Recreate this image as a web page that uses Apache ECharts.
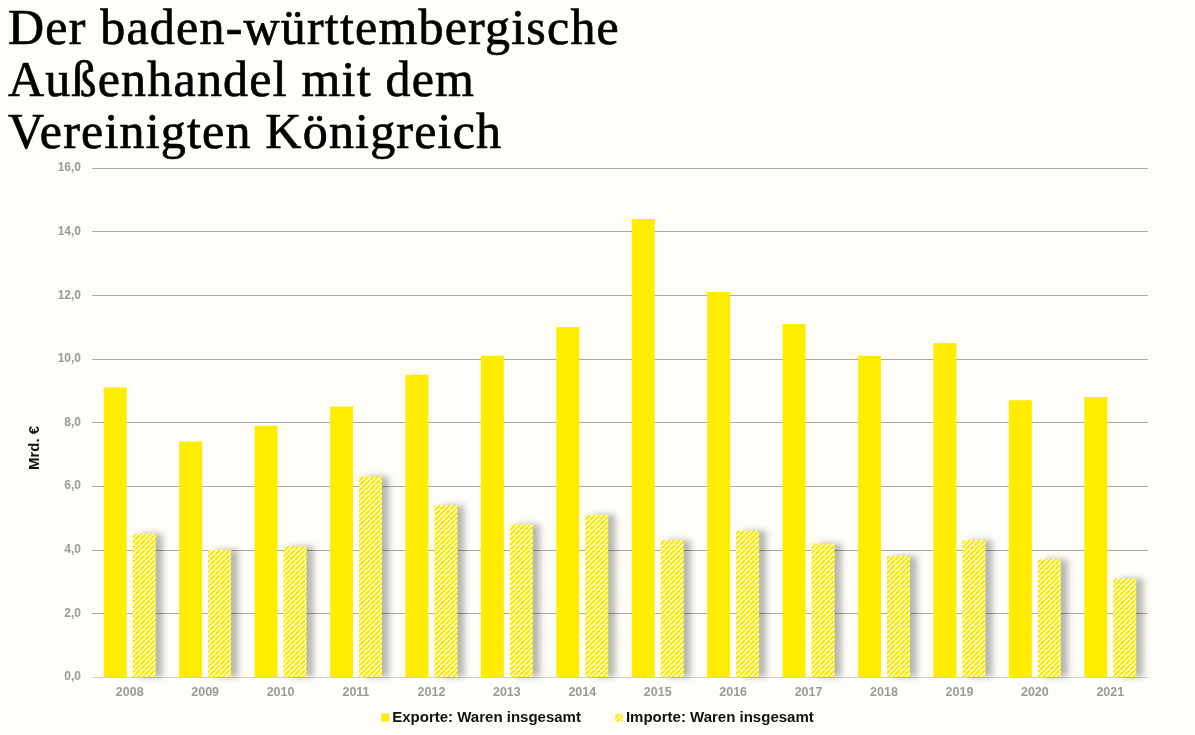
<!DOCTYPE html>
<html><head><meta charset="utf-8">
<script src="https://cdn.jsdelivr.net/npm/echarts@6/dist/echarts.min.js"></script>
<style>
html,body{margin:0;padding:0;background:#fefdf7;}
#title{position:absolute;left:8px;top:1px;font-family:"Liberation Serif","DejaVu Serif",serif;font-size:50px;line-height:52px;letter-spacing:1.2px;color:#000;margin:0;font-weight:normal;-webkit-text-stroke:0.7px #000;}
#chart{position:absolute;left:0;top:0;width:1195px;height:735px;}
</style></head>
<body>
<div id="chart"></div>
<h1 id="title">Der baden-württembergische<br>Außenhandel mit dem<br>Vereinigten Königreich</h1>
<script>
const years = ['2008','2009','2010','2011','2012','2013','2014','2015','2016','2017','2018','2019','2020','2021'];
const exporte = [9.1,7.4,7.9,8.5,9.5,10.1,11.0,14.4,12.1,11.1,10.1,10.5,8.7,8.8];
const importe = [4.5,4.0,4.1,6.3,5.4,4.8,5.1,4.3,4.6,4.2,3.8,4.3,3.7,3.1];
const seriesNames = ['Exporte: Waren insgesamt','Importe: Waren insgesamt'];
const yTicks = {min:0,max:16,interval:2};
const yName = 'Mrd. €';

function stripePattern(){
  const c=document.createElement('canvas');
  c.width=5;c.height=5;
  const ctx=c.getContext('2d');
  ctx.fillStyle='#ffffff';ctx.fillRect(0,0,5,5);
  ctx.strokeStyle='#fbe900';ctx.lineWidth=2.4;
  ctx.beginPath();
  for(let k=-5;k<=10;k+=5){ctx.moveTo(k,5);ctx.lineTo(k+5,0);}
  ctx.stroke();
  return c;
}
const pat={image:stripePattern(),repeat:'repeat'};
const font='Liberation Sans, Arial, sans-serif';

const chart=echarts.init(document.getElementById('chart'));
chart.setOption({
  backgroundColor:'#fefdf7',
  animation:false,
  grid:{left:92,right:47,top:168,bottom:58},
  legend:{bottom:5,left:'center',itemWidth:8,itemHeight:8,itemGap:34,icon:'rect',
    textStyle:{fontFamily:font,fontWeight:'bold',fontSize:15,color:'#111',padding:[0,0,0,-2]},
    data:seriesNames},
  graphic:[{type:'text',x:35,y:448,rotation:Math.PI/2,
    style:{text:yName,font:'bold 15px '+font,fill:'#111',textAlign:'center',textVerticalAlign:'middle'}}],
  xAxis:{type:'category',data:years,
    axisLine:{lineStyle:{color:'#d0d0d0'}},axisTick:{show:false},
    axisLabel:{color:'#9a9a9a',fontWeight:'bold',fontSize:12.5,fontFamily:font,margin:9}},
  yAxis:{type:'value',min:yTicks.min,max:yTicks.max,interval:yTicks.interval,
    axisLine:{show:false},axisTick:{show:false},
    splitLine:{lineStyle:{color:'#a8a8a8',width:1}},
    axisLabel:{color:'#9a9a9a',fontWeight:'bold',fontSize:12,fontFamily:font,margin:11,
      formatter:v=>v.toFixed(1).replace('.',',')}},
  series:[
    {name:seriesNames[0],type:'bar',data:exporte,barWidth:23,barGap:'26%',
      itemStyle:{color:'#ffed00'}},
    {name:seriesNames[1],type:'bar',data:importe,barWidth:23,
      itemStyle:{color:pat,shadowColor:'rgba(0,0,0,0.28)',shadowBlur:6,shadowOffsetX:7,shadowOffsetY:0}}
  ]
});
</script>
</body></html>
